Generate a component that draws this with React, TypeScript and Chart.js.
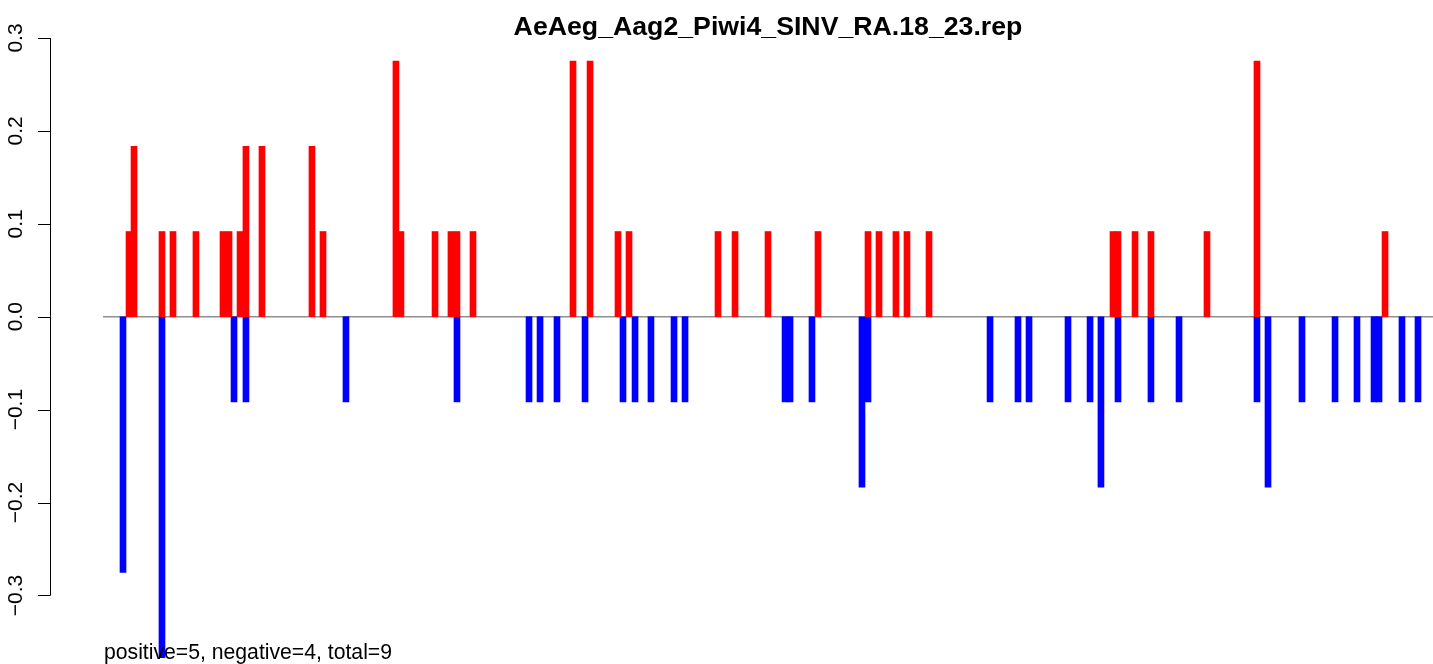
import React, { useEffect, useRef } from 'react';
import { Chart, registerables } from 'chart.js';

Chart.register(...registerables);

const TITLE = 'AeAeg_Aag2_Piwi4_SINV_RA.18_23.rep';
const FOOTER = 'positive=5, negative=4, total=9';
const GENOME_LENGTH = 11704;

const posPositions = [229, 273, 519, 616, 818, 1056, 1109, 1206, 1258, 1399, 1839, 1936, 2578, 2622, 2922, 3062, 3115, 3256, 4136, 4286, 4532, 4629, 5412, 5562, 5852, 6292, 6732, 6829, 6978, 7075, 7269, 8888, 8932, 9082, 9222, 9715, 10155, 11282];
const posValues = [0.0917, 0.1835, 0.0917, 0.0917, 0.0917, 0.0917, 0.0917, 0.0917, 0.1835, 0.1835, 0.1835, 0.0917, 0.2752, 0.0917, 0.0917, 0.0917, 0.0917, 0.0917, 0.2752, 0.2752, 0.0917, 0.0917, 0.0917, 0.0917, 0.0917, 0.0917, 0.0917, 0.0917, 0.0917, 0.0917, 0.0917, 0.0917, 0.0917, 0.0917, 0.0917, 0.0917, 0.2752, 0.0917];

const negPositions = [176, 519, 1153, 1258, 2138, 3115, 3749, 3846, 3995, 4242, 4576, 4682, 4822, 5025, 5122, 6002, 6046, 6239, 6679, 6732, 7806, 8052, 8149, 8492, 8686, 8782, 8932, 9222, 9469, 10155, 10252, 10551, 10842, 11035, 11185, 11229, 11431, 11572];
const negValues = [-0.2752, -0.367, -0.0917, -0.0917, -0.0917, -0.0917, -0.0917, -0.0917, -0.0917, -0.0917, -0.0917, -0.0917, -0.0917, -0.0917, -0.0917, -0.0917, -0.0917, -0.0917, -0.1835, -0.0917, -0.0917, -0.0917, -0.0917, -0.0917, -0.0917, -0.1835, -0.0917, -0.0917, -0.0917, -0.0917, -0.1835, -0.0917, -0.0917, -0.0917, -0.0917, -0.0917, -0.0917, -0.0917];

const yTicks = [-0.3, -0.2, -0.1, 0.0, 0.1, 0.2, 0.3];
const yTickLabels = ['\u22120.3', '\u22120.2', '\u22120.1', '0.0', '0.1', '0.2', '0.3'];

const FONT = '"Liberation Sans", Arial, Helvetica, sans-serif';

const rPlugin = {
  id: 'rStyle',
  beforeDatasetsDraw(chart: any) {
    const { ctx, chartArea } = chart;
    const y0 = chart.scales.y.getPixelForValue(0);
    ctx.save();
    ctx.strokeStyle = '#8f8f8f';
    ctx.lineWidth = 1.4;
    ctx.beginPath();
    ctx.moveTo(chartArea.left, y0);
    ctx.lineTo(chartArea.right, y0);
    ctx.stroke();
    ctx.restore();
  },
  afterDraw(chart: any) {
    const { ctx, chartArea } = chart;
    const ys = chart.scales.y;
    const axisX = 50;
    const tickLen = 12.5;
    ctx.save();
    ctx.strokeStyle = '#000';
    ctx.lineWidth = 1;
    ctx.beginPath();
    const yTop = ys.getPixelForValue(yTicks[yTicks.length - 1]);
    const yBot = ys.getPixelForValue(yTicks[0]);
    ctx.moveTo(axisX + 0.5, yTop);
    ctx.lineTo(axisX + 0.5, yBot);
    yTicks.forEach((v) => {
      const py = Math.round(ys.getPixelForValue(v)) + 0.5;
      ctx.moveTo(axisX + 0.5, py);
      ctx.lineTo(axisX + 0.5 - tickLen, py);
    });
    ctx.stroke();

    ctx.fillStyle = '#000';
    ctx.font = `21px ${FONT}`;
    ctx.textAlign = 'center';
    ctx.textBaseline = 'alphabetic';
    yTicks.forEach((v, i) => {
      const py = ys.getPixelForValue(v);
      ctx.save();
      ctx.translate(22, py);
      ctx.rotate(-Math.PI / 2);
      ctx.fillText(yTickLabels[i], 0, 0);
      ctx.restore();
    });

    ctx.font = `bold 26.7px ${FONT}`;
    ctx.textAlign = 'center';
    ctx.fillText(TITLE, (chartArea.left + chartArea.right) / 2, 35);

    ctx.font = `21.2px ${FONT}`;
    ctx.textAlign = 'left';
    ctx.fillText(FOOTER, 104, 659);
    ctx.restore();
  },
};

export default function App() {
  const canvasRef = useRef<HTMLCanvasElement | null>(null);

  useEffect(() => {
    if (!canvasRef.current) return;
    const chart = new Chart(canvasRef.current, {
      type: 'bar',
      data: {
        datasets: [
          {
            label: 'positive',
            data: posPositions.map((x, i) => ({ x, y: posValues[i] })),
            backgroundColor: '#ff0000',
            borderWidth: 0,
            barThickness: 6,
            grouped: false,
          } as any,
          {
            label: 'negative',
            data: negPositions.map((x, i) => ({ x, y: negValues[i] })),
            backgroundColor: '#0000ff',
            borderWidth: 0,
            barThickness: 6,
            grouped: false,
          } as any,
        ],
      },
      options: {
        animation: false,
        responsive: false,
        maintainAspectRatio: false,
        layout: { padding: { left: 103, right: 0, top: 38, bottom: 0 } },
        plugins: {
          legend: { display: false },
          tooltip: { enabled: false },
          title: { display: false },
        },
        scales: {
          x: {
            type: 'linear',
            min: 0,
            max: GENOME_LENGTH,
            offset: false,
            display: false,
          },
          y: {
            type: 'linear',
            min: -0.3738,
            max: 0.3,
            display: false,
          },
        },
      },
      plugins: [rPlugin],
    });
    return () => chart.destroy();
  }, []);

  return (
    <div style={{ position: 'fixed', left: 0, top: 0, width: 1433, height: 664, background: '#fff' }}>
      <canvas ref={canvasRef} width={1433} height={664} style={{ width: 1433, height: 664, display: 'block' }} />
    </div>
  );
}
